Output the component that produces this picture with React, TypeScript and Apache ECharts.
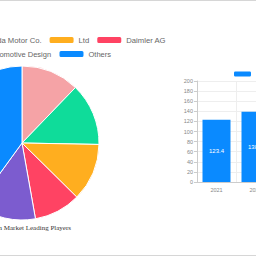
import React, { useEffect, useRef } from "react";
import * as echarts from "echarts";

const pieNames = ["Toyota Motor Corporation", "Honda Motor Co.", "Ltd", "Daimler AG", "Pininfarina Automotive Design", "Others"];
const pieValues = [12.2, 13.1, 12.1, 9.8, 12.8, 40.0];
const pieColors = ["#f5a3a6", "#0fdc9a", "#ffae1f", "#ff4363", "#7c5ccf", "#0a8aff"];
const years = ["2021", "2022", "2023", "2024", "2025"];
const barValues = [123.4, 138.9, 155.2, 172.6, 190.1];
const barName = "Leading Players Market Size";
const titleText = "Japan Market Leading Players";

const OFF = 200; // horizontal offset of the wide canvas
const W = 700;

export default function App() {
  const ref = useRef<HTMLDivElement>(null);
  useEffect(() => {
    document.body.style.margin = "0";
    const chart = echarts.init(ref.current!, null, { renderer: "svg" });
    chart.setOption({
      animation: false,
      color: pieColors,
      textStyle: { fontFamily: "Liberation Sans, Arial, sans-serif" },
      legend: [
        {
          data: pieNames.slice(0, 4),
          right: W - (166 + OFF),
          top: 36,
          align: "left",
          padding: 0,
          itemWidth: 24,
          itemHeight: 6,
          itemGap: 8,
          itemStyle: { borderWidth: 0 },
          textStyle: { fontSize: 7.7, color: "#666" },
        },
        {
          data: pieNames.slice(4),
          right: W - (111 + OFF),
          top: 50,
          align: "left",
          padding: 0,
          itemWidth: 24,
          itemHeight: 6,
          itemGap: 8,
          itemStyle: { borderWidth: 0 },
          textStyle: { fontSize: 7.5, color: "#666" },
        },
        {
          data: [barName],
          left: 234 + OFF,
          top: 71,
          align: "left",
          padding: 0,
          itemWidth: 17,
          itemHeight: 5,
          itemStyle: { borderWidth: 0 },
          textStyle: { fontSize: 6, color: "#666" },
        },
      ],
      grid: { left: 197 + OFF, top: 81, height: 101, width: 195, containLabel: false },
      xAxis: {
        type: "category",
        data: years,
        axisLine: { lineStyle: { color: "#ccc" } },
        axisTick: { lineStyle: { color: "#ccc" } },
        axisLabel: { fontSize: 5.5, color: "#888", margin: 5 },
        splitLine: { show: true, lineStyle: { color: "#eee" } },
      },
      yAxis: {
        type: "value",
        min: 0,
        max: 200,
        interval: 20,
        axisLine: { show: true, lineStyle: { color: "#ccc" } },
        axisTick: { show: true, length: 3, lineStyle: { color: "#ccc" } },
        axisLabel: { fontSize: 5.5, color: "#888", margin: 4 },
        splitLine: { lineStyle: { color: "#eee" } },
      },
      series: [
        {
          type: "pie",
          center: [22 + OFF, 143],
          radius: 77,
          label: { show: false },
          labelLine: { show: false },
          itemStyle: { borderColor: "#fff", borderWidth: 1 },
          data: pieNames.map((n, i) => ({ name: n, value: pieValues[i] })),
        },
        {
          type: "bar",
          name: barName,
          data: barValues,
          barWidth: 28,
          itemStyle: { color: "#0a8aff" },
          label: { show: true, position: "inside", color: "#fff", fontSize: 6 },
        },
      ],
      graphic: [
        { type: "line", shape: { x1: 0, y1: 0.5, x2: W, y2: 0.5 }, style: { stroke: "#d6d6d6", lineWidth: 1 } },
        { type: "line", shape: { x1: 0, y1: 255.5, x2: W, y2: 255.5 }, style: { stroke: "#d6d6d6", lineWidth: 1 } },
        {
          type: "text",
          x: 71 + OFF,
          y: 227.5,
          style: {
            text: titleText,
            fill: "#333",
            font: "7px 'Liberation Serif', serif",
            textAlign: "right",
            textVerticalAlign: "middle",
          },
        },
      ],
    });
    return () => chart.dispose();
  }, []);
  return (
    <div style={{ position: "absolute", left: 0, top: 0, width: 256, height: 256, overflow: "hidden" }}>
      <div ref={ref} style={{ position: "absolute", left: -OFF, top: 0, width: W, height: 256 }} />
    </div>
  );
}
